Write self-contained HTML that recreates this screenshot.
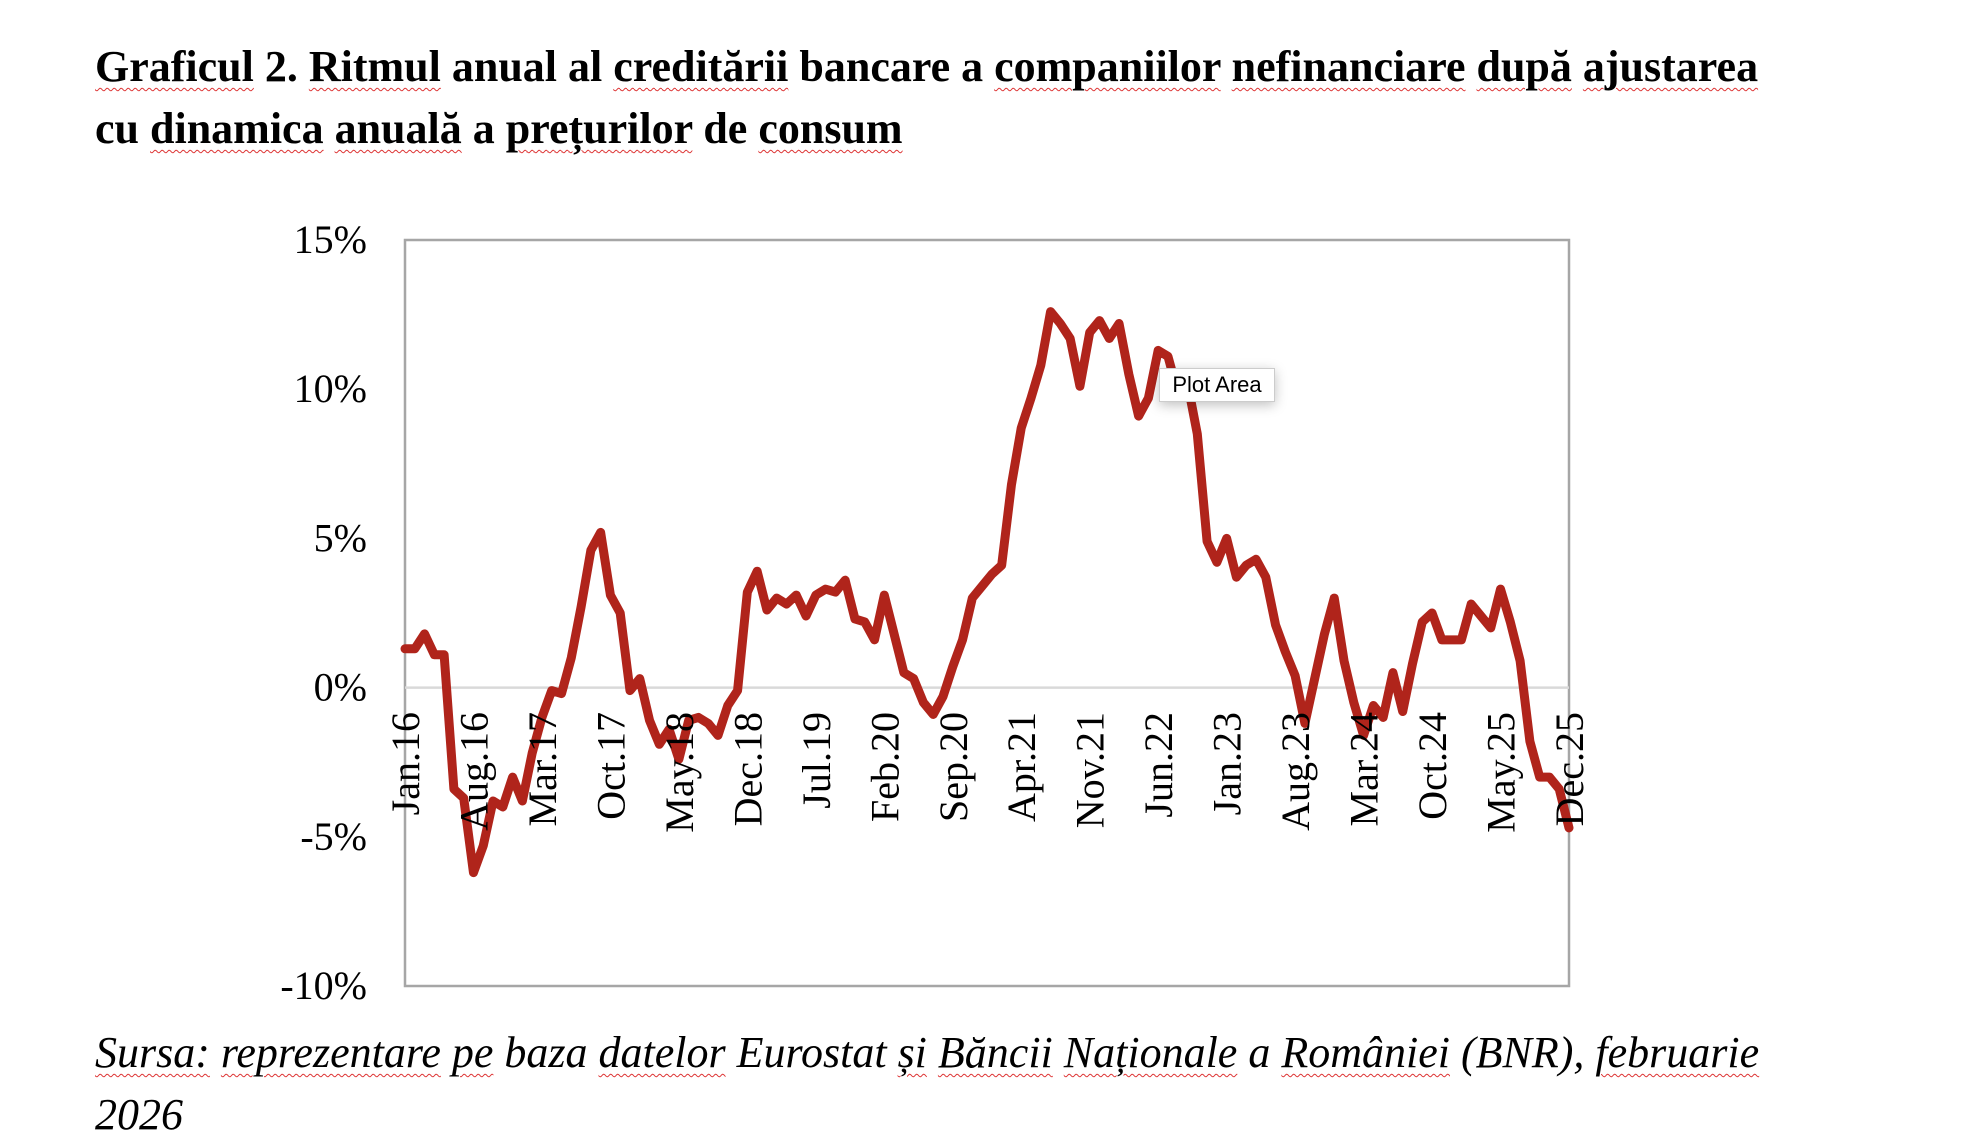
<!DOCTYPE html>
<html><head><meta charset="utf-8"><style>
body{margin:0;width:1984px;height:1142px;background:#fff;overflow:hidden;position:relative;font-family:"Liberation Serif",serif}
.t{position:absolute;left:95px;font-weight:bold;font-size:44px;white-space:nowrap;color:#000}
.s{position:absolute;left:95px;font-style:italic;font-size:44px;white-space:nowrap;color:#000}
.w{text-decoration:underline wavy #d33;text-decoration-thickness:1px;text-underline-offset:6px}
#tip{position:absolute;left:1159px;top:368px;width:114px;height:32px;border:1px solid #ccc;background:#fff;font-family:"Liberation Sans",sans-serif;font-size:22px;line-height:32px;text-align:center;box-shadow:0 3px 12px rgba(0,0,0,.25)}
</style></head><body>
<div class="t" style="top:41px"><span class="w">Graficul</span> 2. <span class="w">Ritmul</span> anual al <span class="w">creditării</span> bancare a <span class="w">companiilor</span> <span class="w">nefinanciare</span> <span class="w">după</span> <span class="w">ajustarea</span></div>
<div class="t" style="top:103px">cu <span class="w">dinamica</span> <span class="w">anuală</span> a <span class="w">prețurilor</span> de <span class="w">consum</span></div>
<svg id="chart" width="1984" height="1142" style="position:absolute;left:0;top:0"></svg>
<div id="tip">Plot Area</div>
<div class="s" style="top:1027px"><span class="w">Sursa:</span> <span class="w">reprezentare</span> <span class="w">pe</span> baza <span class="w">datelor</span> Eurostat <span class="w">și</span> <span class="w">Băncii</span> <span class="w">Naționale</span> a <span class="w">României</span> (BNR), <span class="w">februarie</span></div>
<div class="s" style="top:1089px">2026</div>
<script>
const years=["16","17","18","19","20","21","22","23","24","25"];
const monthNames=["Jan","Feb","Mar","Apr","May","Jun","Jul","Aug","Sep","Oct","Nov","Dec"];
const values=[1.3,1.3,1.8,1.1,1.1,-3.4,-3.7,-6.2,-5.3,-3.8,-4.0,-3.0,
-3.8,-2.2,-1.0,-0.1,-0.2,1.0,2.7,4.6,5.2,3.1,2.5,-0.1,
0.3,-1.1,-1.9,-1.4,-2.4,-1.1,-1.0,-1.2,-1.6,-0.6,-0.1,3.2,
3.9,2.6,3.0,2.8,3.1,2.4,3.1,3.3,3.2,3.6,2.3,2.2,
1.6,3.1,1.8,0.5,0.3,-0.5,-0.9,-0.3,0.7,1.6,3.0,3.4,
3.8,4.1,6.8,8.7,9.7,10.8,12.6,12.2,11.7,10.1,11.9,12.3,
11.7,12.2,10.5,9.1,9.7,11.3,11.1,9.9,10.2,8.5,4.9,4.2,
5.0,3.7,4.1,4.3,3.7,2.1,1.2,0.4,-1.2,0.3,1.8,3.0,
0.9,-0.5,-1.6,-0.6,-1.0,0.5,-0.8,0.8,2.2,2.5,1.6,1.6,
1.6,2.8,2.4,2.0,3.3,2.2,0.9,-1.8,-3.0,-3.0,-3.4,-4.7];
const yTicks=[15,10,5,0,-5,-10];
const categories=[];
years.forEach(y=>monthNames.forEach(m=>categories.push(m+"."+y)));
const L=405,R=1569,T=240,B=986,yMin=-10,yMax=15;
const xs=i=>L+(R-L)*i/(categories.length-1);
const ys=v=>B-(v-yMin)/(yMax-yMin)*(B-T);
const svg=document.getElementById('chart');const NS="http://www.w3.org/2000/svg";
function mk(t,a){const e=document.createElementNS(NS,t);for(const k in a)e.setAttribute(k,a[k]);svg.appendChild(e);return e;}
const frame=mk('rect',{x:L,y:T,width:R-L,height:B-T,fill:'none',stroke:'#a6a6a6','stroke-width':2.5});


const zl=mk('line',{x1:L,x2:R,y1:ys(0),y2:ys(0),stroke:'#d9d9d9','stroke-width':2.5});


yTicks.forEach(v=>{const t=mk('text',{x:367,y:ys(v)+13,'text-anchor':'end','font-size':40,'font-family':'Liberation Serif, serif'});t.textContent=v+'%';

});
const p=mk('polyline',{points:values.map((v,i)=>xs(i)+','+ys(v)).join(' '),fill:'none',stroke:'#b0241b','stroke-width':9,'stroke-linejoin':'round','stroke-linecap':'round'});


categories.forEach((c,i)=>{if(i%7)return;const x=xs(i)+14,y=712;const t=mk('text',{x:x,y:y,transform:`rotate(-90 ${x} ${y})`,'text-anchor':'end','font-size':40,'font-family':'Liberation Serif, serif'});t.textContent=c;

});
</script>
</body></html>
